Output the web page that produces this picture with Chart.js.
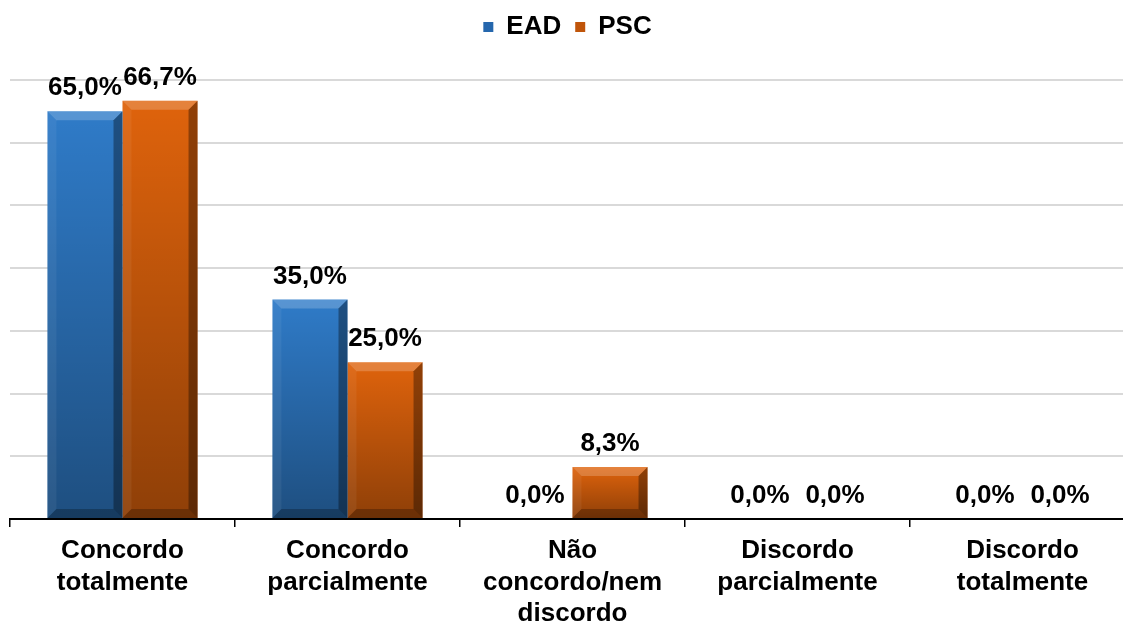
<!DOCTYPE html>
<html>
<head>
<meta charset="utf-8">
<script src="https://cdn.jsdelivr.net/npm/chart.js@4/dist/chart.umd.min.js"></script>
<style>
    html, body { margin: 0; padding: 0; background: #ffffff; overflow: hidden; }
    /* the plot runs a little past the right edge, as in the original */
    #wrap { width: 1135px; height: 624px; position: relative; }
</style>
</head>
<body>
<div id="wrap"><canvas id="surveyChart"></canvas></div>
<script>
// Chart data
var categories = [
    ["Concordo", "totalmente"],
    ["Concordo", "parcialmente"],
    ["Não", "concordo/nem", "discordo"],
    ["Discordo", "parcialmente"],
    ["Discordo", "totalmente"]
];
var eadValues = [65.0, 35.0, 0.0, 0.0, 0.0];
var pscValues = [66.7, 25.0, 8.3, 0.0, 0.0];
var yTicks = [0, 10, 20, 30, 40, 50, 60, 70];

var FONT = "'Liberation Sans', Arial, sans-serif";

function formatPct(v) {
    return v.toFixed(1).replace(".", ",") + "%";
}

// Bevel + shading on each bar, then the value labels
var barDecor = {
    id: "barDecor",
    afterDatasetsDraw: function (chart) {
        var ctx = chart.ctx;
        chart.data.datasets.forEach(function (ds, di) {
            var meta = chart.getDatasetMeta(di);
            meta.data.forEach(function (bar) {
                var L = bar.x - bar.width / 2, R = bar.x + bar.width / 2;
                var T = bar.y, B = bar.base;
                var h = B - T;
                if (h < 1) return;
                ctx.save();
                var g = ctx.createLinearGradient(0, T, 0, B);
                g.addColorStop(0, "rgba(0,0,0,0)");
                g.addColorStop(1, "rgba(0,0,0,0.36)");
                ctx.fillStyle = g;
                ctx.fillRect(L, T, R - L, h);

                var b = Math.min(9, h / 2);
                function poly(pts, col) {
                    ctx.beginPath();
                    ctx.moveTo(pts[0][0], pts[0][1]);
                    for (var i = 1; i < pts.length; i++) ctx.lineTo(pts[i][0], pts[i][1]);
                    ctx.closePath();
                    ctx.fillStyle = col;
                    ctx.fill();
                }
                poly([[L, T], [R, T], [R - b, T + b], [L + b, T + b]], "rgba(255,255,255,0.2)");
                poly([[L, T], [L + b, T + b], [L + b, B - b], [L, B]], "rgba(255,255,255,0.06)");
                poly([[R, T], [R, B], [R - b, B - b], [R - b, T + b]], "rgba(0,0,0,0.35)");
                poly([[L, B], [R, B], [R - b, B - b], [L + b, B - b]], "rgba(0,0,0,0.25)");
                ctx.restore();
            });
        });

        ctx.save();
        ctx.fillStyle = "#000";
        ctx.font = "bold 26px " + FONT;
        ctx.textAlign = "center";
        ctx.textBaseline = "alphabetic";
        chart.data.datasets.forEach(function (ds, di) {
            var meta = chart.getDatasetMeta(di);
            meta.data.forEach(function (bar, i) {
                ctx.fillText(formatPct(ds.data[i]), bar.x, bar.y - 16);
            });
        });
        ctx.restore();
    }
};

// Give the legend a fixed block so the plot starts at the right height
var legendHeight = {
    id: "legendHeight",
    beforeInit: function (chart) {
        var origFit = chart.legend.fit;
        chart.legend.fit = function () {
            origFit.bind(chart.legend)();
            this.height = 80;
        };
    }
};

var ctx = document.getElementById("surveyChart").getContext("2d");
var surveyChart = new Chart(ctx, {
    type: "bar",
    data: {
        labels: categories,
        datasets: [
            {
                label: "EAD",
                data: eadValues,
                backgroundColor: "#2f7bc8",
                borderWidth: 0,
                categoryPercentage: 0.667,
                barPercentage: 1.0
            },
            {
                label: "PSC",
                data: pscValues,
                backgroundColor: "#df630c",
                borderWidth: 0,
                categoryPercentage: 0.667,
                barPercentage: 1.0
            }
        ]
    },
    options: {
        responsive: true,
        maintainAspectRatio: false,
        animation: false,
        layout: { padding: 0 },
        plugins: {
            tooltip: { enabled: false },
            legend: {
                position: "top",
                labels: {
                    font: { family: FONT, size: 26, weight: "bold" },
                    color: "#000",
                    boxWidth: 10,
                    boxHeight: 10,
                    padding: 14,
                    generateLabels: function (chart) {
                        var cols = ["#2567ad", "#c0550a"];
                        return chart.data.datasets.map(function (ds, i) {
                            return {
                                text: ds.label,
                                fillStyle: cols[i],
                                strokeStyle: cols[i],
                                lineWidth: 0,
                                datasetIndex: i,
                                hidden: false
                            };
                        });
                    }
                }
            }
        },
        scales: {
            x: {
                offset: true,
                grid: {
                    display: true,
                    drawOnChartArea: false,
                    drawTicks: true,
                    tickLength: 8,
                    color: "#000",
                    lineWidth: 1.5,
                    offset: true
                },
                border: { display: true, color: "#000", width: 2 },
                ticks: {
                    color: "#000",
                    font: { family: FONT, size: 26, weight: "bold", lineHeight: 1.22 },
                    maxRotation: 0,
                    autoSkip: false,
                    padding: 8
                },
                afterFit: function (scale) { scale.height = 105; }
            },
            y: {
                min: 0,
                max: 70,
                afterBuildTicks: function (scale) {
                    scale.ticks = yTicks.map(function (v) { return { value: v }; });
                },
                ticks: { display: false },
                grid: { color: "#d9d9d9", lineWidth: 2, drawTicks: false },
                border: { display: false },
                afterFit: function (scale) { scale.width = 10; }
            }
        }
    },
    plugins: [barDecor, legendHeight]
});
</script>
</body>
</html>
